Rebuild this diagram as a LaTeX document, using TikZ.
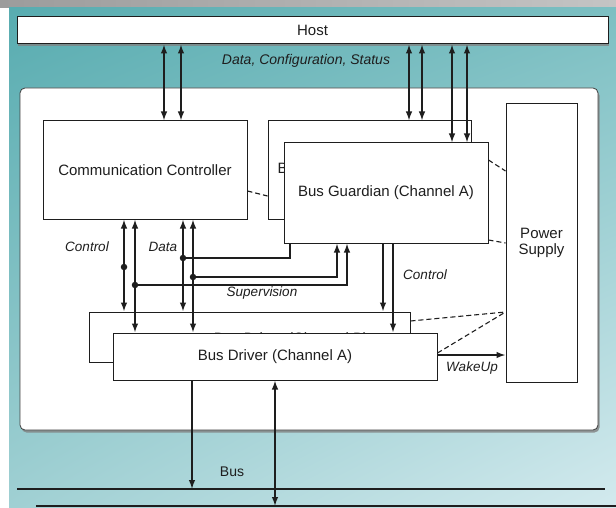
\documentclass[tikz,border=0pt]{standalone}
\usepackage{fontspec}
\setmainfont{Liberation Sans}
\usetikzlibrary{arrows.meta,calc,positioning,shadows,shadings}
\definecolor{inkgray}{HTML}{1E1E1E}
\definecolor{bandgray}{HTML}{9C9C9C}
\definecolor{bandlight}{HTML}{C4C4C4}
\definecolor{tealdark}{HTML}{58ACB0}
\definecolor{tealmid}{HTML}{7CBFC2}
\definecolor{teallow}{HTML}{A0D0D3}
\definecolor{teallight}{HTML}{D3EAEE}
\tikzset{
  blockbox/.style={draw=inkgray, fill=white, line width=1pt, inner sep=0pt, align=center, text=inkgray, font=\fontsize{15}{16.5}\selectfont},
  framebox/.style={draw=inkgray!85, fill=white, rounded corners=5pt, line width=0.8pt, inner sep=0pt, drop shadow={shadow xshift=1.5pt, shadow yshift=-2.5pt, opacity=0.8}},
  duplex/.style={inkgray, {Latex[length=9pt,width=6.5pt]}-{Latex[length=9pt,width=6.5pt]}, line width=1.4pt},
  simplex/.style={inkgray, -{Latex[length=9pt,width=6.5pt]}, line width=1.4pt},
  wire/.style={inkgray, line width=1.3pt},
  guide/.style={inkgray, dash pattern=on 5pt off 3pt, line width=1.1pt},
  junction/.style={circle, fill=inkgray, inner sep=0pt, minimum size=6.5pt},
  labelnode/.style={text=inkgray, inner sep=1pt, font=\fontsize{13.5}{15}\selectfont\itshape},
  busline/.style={inkgray, line width=1.2pt}
}
\begin{document}
\begin{tikzpicture}[x=1pt,y=-1pt]
  \useasboundingbox (0,0) rectangle (616,508);
  % background
  \fill[white] (0,0) rectangle (616,508);
  \shade[left color=bandgray, right color=bandlight] (0,0) rectangle (616,8);
  \shade[upper left=tealdark, upper right=tealmid, lower left=teallow, lower right=teallight] (9,8) rectangle (616,508);

  % frame and host
  \node[framebox, minimum width=578pt, minimum height=342pt] (unit) at (309,259) {};
  \node[blockbox, minimum width=591pt, minimum height=27pt, drop shadow={shadow xshift=1pt, shadow yshift=-2pt, opacity=0.75}] (host) at (312.5,30.5) {Host};

  % channel B behind, channel A in front
  \node[blockbox, minimum width=203pt, minimum height=98pt] (bgb) at (369.5,170) {\hspace*{-8pt}Bus Guardian (Channel B)};
  \node[blockbox, minimum width=204pt, minimum height=98pt] (cc) at (145,170) {Communication Controller};
  \node[blockbox, minimum width=204pt, minimum height=100pt] (bga) at (386,193) {Bus Guardian (Channel A)};
  \node[blockbox, minimum width=71pt, minimum height=278pt] (ps) at (541.5,243) {Power\\Supply};
  \node[blockbox, minimum width=321pt, minimum height=50pt] (bdb) at (249.5,337) {\hspace*{83pt}\raisebox{-6pt}[0pt][0pt]{Bus Driver (Channel B)}};
  \node[blockbox, minimum width=324pt, minimum height=47pt] (bda) at (275,356.5) {Bus Driver (Channel A)};

  % host links
  \foreach \xa in {164,181} {
    \draw[duplex] (\xa,0 |- host.south) -- (\xa,0 |- cc.north);
  }
  \foreach \xa in {409,422} {
    \draw[duplex] (\xa,0 |- host.south) -- (\xa,0 |- bgb.north);
  }
  \foreach \xa in {452,467} {
    \draw[duplex] (\xa,0 |- host.south) -- (\xa,0 |- bga.north);
  }
  \node[labelnode, font=\fontsize{14}{15}\selectfont\itshape] (dcs) at (306,61) {Data, Configuration, Status};

  % controller to drivers
  \draw[duplex] (124,0 |- cc.south) -- (124,0 |- bdb.north);
  \draw[duplex] (135,0 |- cc.south) -- (135,0 |- bda.north);
  \draw[duplex] (183,0 |- cc.south) -- (183,0 |- bdb.north);
  \draw[duplex] (193,0 |- cc.south) -- (193,0 |- bda.north);
  \node[junction] (jc) at (124,267) {};
  \node[junction] (jsup) at (135,285) {};
  \node[junction] (jdb) at (183,258) {};
  \node[junction] (jda) at (193,277) {};
  \node[labelnode] (ctrl) at (87,247) {Control};
  \node[labelnode] (data) at (163,247) {Data};

  % supervision to guardian
  \draw[wire] (jdb) -- (290,258) -- (290,0 |- bga.south);
  \draw[simplex] (jda) -- (337,277) -- (337,0 |- bga.south);
  \draw[simplex] (jsup) -- (347,285) -- (347,0 |- bga.south);
  \node[labelnode] (sup) at (262,293) {Supervision};

  % guardian control to drivers
  \draw[simplex] (383,0 |- bga.south) -- (383,0 |- bdb.north);
  \draw[simplex] (393,0 |- bga.south) -- (393,0 |- bda.north);
  \node[labelnode] (gctrl) at (425,275) {Control};

  % dashed power links
  \draw[guide] (cc.east |- 0,191) -- (bgb.west |- 0,196);
  \draw[guide] (bga.east |- 0,160) -- (ps.west |- 0,171);
  \draw[guide] (bga.east |- 0,240) -- (ps.west |- 0,243);
  \draw[guide] (bdb.east |- 0,321) -- (ps.west |- 0,312);
  \draw[guide] (bda.east |- 0,353) -- (ps.west |- 0,312);
  \draw[simplex] (bda.east |- 0,355) -- (ps.west |- 0,355);
  \node[labelnode] (wake) at (472,368) {WakeUp};

  % bus
  \coordinate (busa1) at (17,489);
  \coordinate (busa2) at (605,489);
  \coordinate (busb1) at (36,506);
  \coordinate (busb2) at (616,506);
  \draw[busline] (busa1) -- (busa2);
  \draw[busline] (busb1) -- (busb2);
  \draw[simplex] (192,0 |- bda.south) -- (192,0 |- busa1);
  \draw[duplex] (275,0 |- bda.south) -- (275,0 |- busb1);
  \node[text=inkgray, font=\fontsize{14}{15}\selectfont] (bus) at (232,472) {Bus};
\end{tikzpicture}
\end{document}
